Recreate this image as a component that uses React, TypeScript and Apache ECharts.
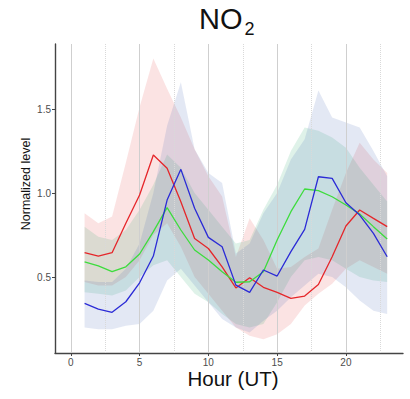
import React, { useEffect, useRef } from "react";
import * as echarts from "echarts";

const hours = [1, 2, 3, 4, 5, 6, 7, 8, 9, 10, 11, 12, 13, 14, 15, 16, 17, 18, 19, 20, 21, 22, 23];

const redMean = [0.645, 0.625, 0.645, 0.82, 0.988, 1.226, 1.147, 0.948, 0.73, 0.67, 0.56, 0.435, 0.496, 0.439, 0.409, 0.373, 0.387, 0.456, 0.621, 0.804, 0.899, 0.849, 0.8];
const greenMean = [0.591, 0.567, 0.532, 0.561, 0.637, 0.77, 0.913, 0.78, 0.661, 0.601, 0.532, 0.469, 0.472, 0.532, 0.72, 0.889, 1.024, 1.014, 0.978, 0.929, 0.875, 0.8, 0.726];
const blueMean = [0.343, 0.309, 0.29, 0.353, 0.466, 0.625, 0.958, 1.141, 0.909, 0.736, 0.68, 0.452, 0.409, 0.542, 0.506, 0.651, 0.784, 1.097, 1.087, 0.942, 0.869, 0.76, 0.621];

const redUpper = [0.88, 0.82, 0.86, 1.18, 1.51, 1.8, 1.62, 1.45, 1.26, 1.1, 0.98, 0.62, 0.85, 0.72, 0.55, 0.56, 0.62, 0.67, 0.9, 1.12, 1.3, 1.2, 1.12];
const redLower = [0.47, 0.45, 0.45, 0.5, 0.6, 0.75, 0.82, 0.68, 0.5, 0.4, 0.3, 0.2, 0.15, 0.13, 0.16, 0.22, 0.33, 0.4, 0.46, 0.55, 0.6, 0.56, 0.52];
const greenUpper = [0.8, 0.74, 0.72, 0.78, 0.9, 1.05, 1.23, 1.15, 1.0, 0.9, 0.8, 0.7, 0.72, 0.9, 1.05, 1.25, 1.39, 1.37, 1.33, 1.27, 1.15, 1.05, 0.95];
const greenLower = [0.41, 0.4, 0.39, 0.42, 0.5, 0.57, 0.6, 0.5, 0.4, 0.35, 0.28, 0.22, 0.2, 0.22, 0.35, 0.5, 0.6, 0.62, 0.6, 0.55, 0.5, 0.48, 0.47];
const blueUpper = [0.48, 0.47, 0.47, 0.55, 0.7, 1.0, 1.4, 1.66, 1.26, 1.12, 1.06, 0.64, 0.7, 0.88, 1.0, 1.2, 1.32, 1.61, 1.45, 1.42, 1.39, 1.25, 1.1];
const blueLower = [0.2, 0.19, 0.19, 0.21, 0.22, 0.3, 0.48, 0.55, 0.45, 0.35, 0.25, 0.2, 0.17, 0.24, 0.3, 0.38, 0.45, 0.52, 0.5, 0.44, 0.36, 0.3, 0.28];

const xTicks = [0, 5, 10, 15, 20];
const xMinor = [2.5, 7.5, 12.5, 17.5, 22.5];
const yTicks = [0.5, 1.0, 1.5];

const FONT = "Liberation Sans, Arial, sans-serif";

function pairs(ys: number[]) {
  return hours.map((h, i) => [h, ys[i]]);
}

function band(name: string, lower: number[], upper: number[], fill: string) {
  const rows = hours.map((h, i) => [h, lower[i], upper[i]]);
  return {
    name: name + "_band",
    type: "custom",
    data: rows,
    silent: true,
    clip: true,
    z: 2,
    encode: { x: 0, y: [1, 2] },
    renderItem: (params: any, api: any) => {
      if (params.dataIndex !== 0) return null;
      const top = rows.map((r) => api.coord([r[0], r[2]]));
      const bottom = rows.map((r) => api.coord([r[0], r[1]])).reverse();
      return {
        type: "polygon",
        shape: { points: top.concat(bottom) },
        style: { fill },
      };
    },
  };
}

function meanLine(name: string, ys: number[], color: string) {
  return {
    name,
    type: "line",
    data: pairs(ys),
    symbol: "none",
    lineStyle: { color, width: 1.3 },
    silent: true,
    z: 5,
  };
}

export default function App() {
  const ref = useRef<HTMLDivElement>(null);
  useEffect(() => {
    if (!ref.current) return;
    const chart = echarts.init(ref.current, undefined, { renderer: "svg" });
    chart.setOption({
      animation: false,
      backgroundColor: "#ffffff",
      grid: { left: 55, right: 7, top: 44, bottom: 46, containLabel: false },
      xAxis: {
        type: "value",
        min: -1.15,
        max: 24.15,
        splitLine: { show: false },
        axisLine: { show: true, onZero: false, lineStyle: { color: "#444444", width: 1.4 } },
        axisTick: { show: true, length: 3, customValues: xTicks, lineStyle: { color: "#444444" } },
        axisLabel: { customValues: xTicks, color: "#4d4d4d", fontSize: 10, fontFamily: FONT, margin: 4 },
      },
      yAxis: {
        type: "value",
        min: 0.048,
        max: 1.887,
        splitLine: { show: false },
        axisLine: { show: true, onZero: false, lineStyle: { color: "#444444", width: 1.4 } },
        axisTick: { show: true, length: 3, customValues: yTicks, lineStyle: { color: "#444444" } },
        axisLabel: {
          customValues: yTicks,
          color: "#4d4d4d",
          fontSize: 10,
          fontFamily: FONT,
          margin: 4,
          formatter: (v: number) => v.toFixed(1),
        },
      },
      graphic: [
        {
          type: "text",
          x: 199,
          y: 19,
          style: {
            text: "NO",
            fontSize: 29,
            fontFamily: FONT,
            fill: "#111111",
            textAlign: "left",
            textVerticalAlign: "middle",
          },
        },
        {
          type: "text",
          x: 244.5,
          y: 29,
          style: {
            text: "2",
            fontSize: 18,
            fontFamily: FONT,
            fill: "#111111",
            textAlign: "left",
            textVerticalAlign: "middle",
          },
        },
        {
          type: "text",
          x: 26,
          y: 184,
          rotation: Math.PI / 2,
          style: {
            text: "Normalized level",
            fontSize: 12.5,
            fontFamily: FONT,
            fill: "#111111",
            textAlign: "center",
            textVerticalAlign: "middle",
          },
        },
        {
          type: "text",
          x: 233,
          y: 378,
          style: {
            text: "Hour (UT)",
            fontSize: 20.5,
            fontFamily: FONT,
            fill: "#111111",
            textAlign: "center",
            textVerticalAlign: "middle",
          },
        },
      ],
      series: [
        {
          name: "grid",
          type: "line",
          data: [[0, 0.5]],
          symbol: "none",
          lineStyle: { opacity: 0 },
          silent: true,
          z: 1,
          markLine: {
            silent: true,
            symbol: "none",
            label: { show: false },
            data: [
              ...xTicks.map((v) => ({ xAxis: v, lineStyle: { color: "#cfcfcf", width: 1, type: "solid" } })),
              ...xMinor.map((v) => ({ xAxis: v, lineStyle: { color: "#d9d9d9", width: 1, type: "dotted" } })),
            ],
          },
        },
        band("red", redLower, redUpper, "rgba(230,70,70,0.15)"),
        band("green", greenLower, greenUpper, "rgba(40,170,110,0.15)"),
        band("blue", blueLower, blueUpper, "rgba(70,100,180,0.15)"),
        meanLine("red", redMean, "#e5262a"),
        meanLine("green", greenMean, "#3ddc3d"),
        meanLine("blue", blueMean, "#2b2bd6"),
      ],
    });
    return () => chart.dispose();
  }, []);
  return <div ref={ref} style={{ width: 410, height: 399, position: "absolute", left: 0, top: 0 }} />;
}
